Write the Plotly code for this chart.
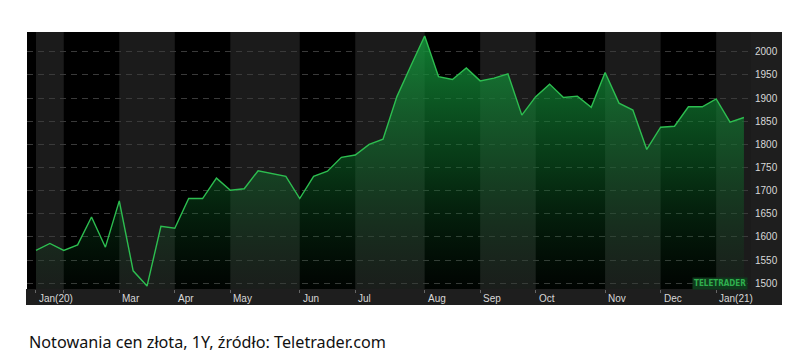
import plotly.graph_objects as go

# Weekly gold price (USD/oz), Jan 2020 - Jan 2021
week_index = list(range(52))
price = [1571, 1586, 1571, 1583, 1643, 1578, 1678, 1527, 1494, 1623,
         1619, 1683, 1683, 1727, 1701, 1704, 1743, 1737, 1731, 1683,
         1731, 1742, 1772, 1777, 1800, 1811, 1903, 1969, 2034, 1946,
         1940, 1965, 1937, 1943, 1952, 1863, 1903, 1930, 1901, 1904,
         1880, 1955, 1889, 1874, 1789, 1837, 1839, 1881, 1881, 1898,
         1848, 1858]

# Month boundaries (week index where each month starts) and labels
month_start = [0, 2, 6, 10, 14, 19, 23, 28, 32, 36, 41, 45, 49]
month_label = ["Jan(20)", "", "Mar", "Apr", "May", "Jun", "Jul", "Aug",
               "Sep", "Oct", "Nov", "Dec", "Jan(21)"]

y_ticks = [1500, 1550, 1600, 1650, 1700, 1750, 1800, 1850, 1900, 1950, 2000]

caption = "Notowania cen złota, 1Y, źródło: Teletrader.com"

X_MIN, X_MAX = -0.648, 51.51
Y_MIN, Y_MAX = 1487.7, 2042.5

fig = go.Figure()
fig.add_trace(go.Scatter(
    x=week_index, y=price, mode="lines",
    line=dict(color="#2dbe50", width=1.4),
    fill="tozeroy",
    fillgradient=dict(
        type="vertical",
        colorscale=[[0, "rgba(10,80,30,0.05)"], [0.5, "rgba(15,115,45,0.5)"],
                    [1, "rgba(20,150,60,0.85)"]],
        start=Y_MIN, stop=Y_MAX,
    ),
    hoverinfo="skip",
))

shapes = []
W, H = 724.0, 257.0
STRIP = "#1e1e1e"
# right axis strip
shapes.append(dict(type="rect", xref="paper", yref="paper",
                   x0=1.0, x1=(782 - 27) / W, y0=(289 - 305) / H, y1=1.0,
                   fillcolor=STRIP, line=dict(width=0), layer="below"))
# bottom axis strip
shapes.append(dict(type="rect", xref="paper", yref="paper",
                   x0=(26 - 27) / W, x1=1.0, y0=(289 - 305) / H, y1=0.0,
                   fillcolor=STRIP, line=dict(width=0), layer="below"))
# alternating month bands
bounds = month_start + [X_MAX]
for i in range(len(month_start)):
    if i % 2 == 0:
        shapes.append(dict(type="rect", xref="x", yref="paper",
                           x0=bounds[i], x1=bounds[i + 1], y0=0, y1=1,
                           fillcolor="#1b1b1b", line=dict(width=0), layer="below"))

annotations = []
for ms, lab in zip(month_start, month_label):
    if lab:
        annotations.append(dict(x=ms, y=-0.036, xref="x", yref="paper",
                                text=lab, showarrow=False, xanchor="left",
                                yanchor="middle", xshift=1,
                                font=dict(family="Liberation Sans, Arial", size=10,
                                          color="#d8d8d8")))
annotations.append(dict(x=(748 - 27) / W, y=(289 - 283) / H, xref="paper", yref="paper",
                        text="<b>TELETRADER</b>", showarrow=False,
                        xanchor="right", yanchor="middle",
                        font=dict(family="DejaVu Sans Condensed, Arial", size=8,
                                  color="#2fae4e"),
                        bgcolor="#0f3a1c"))
annotations.append(dict(x=0, y=(289 - 341.5) / H, xref="paper", yref="paper",
                        text=caption, showarrow=False, xanchor="left",
                        yanchor="middle",
                        font=dict(family="Noto Sans", size=16.2, color="#111111")))

fig.update_layout(
    width=809, height=364,
    margin=dict(l=27, r=58, t=32, b=75),
    paper_bgcolor="white", plot_bgcolor="black",
    showlegend=False,
    shapes=shapes, annotations=annotations,
    xaxis=dict(range=[X_MIN, X_MAX], showgrid=False, zeroline=False,
               tickvals=month_start, showticklabels=False,
               ticks="outside", ticklen=3, tickcolor="#666", showline=False,
               fixedrange=True),
    yaxis=dict(range=[Y_MIN, Y_MAX], side="right", tickvals=y_ticks,
               showgrid=True, gridcolor="#3a3a3a", griddash="6px,5px",
               gridwidth=1, zeroline=False, showline=False,
               ticks="", ticklabelstandoff=3,
               tickfont=dict(family="Liberation Sans, Arial", size=10, color="#d8d8d8"),
               fixedrange=True),
)

fig.write_html("out.html")
